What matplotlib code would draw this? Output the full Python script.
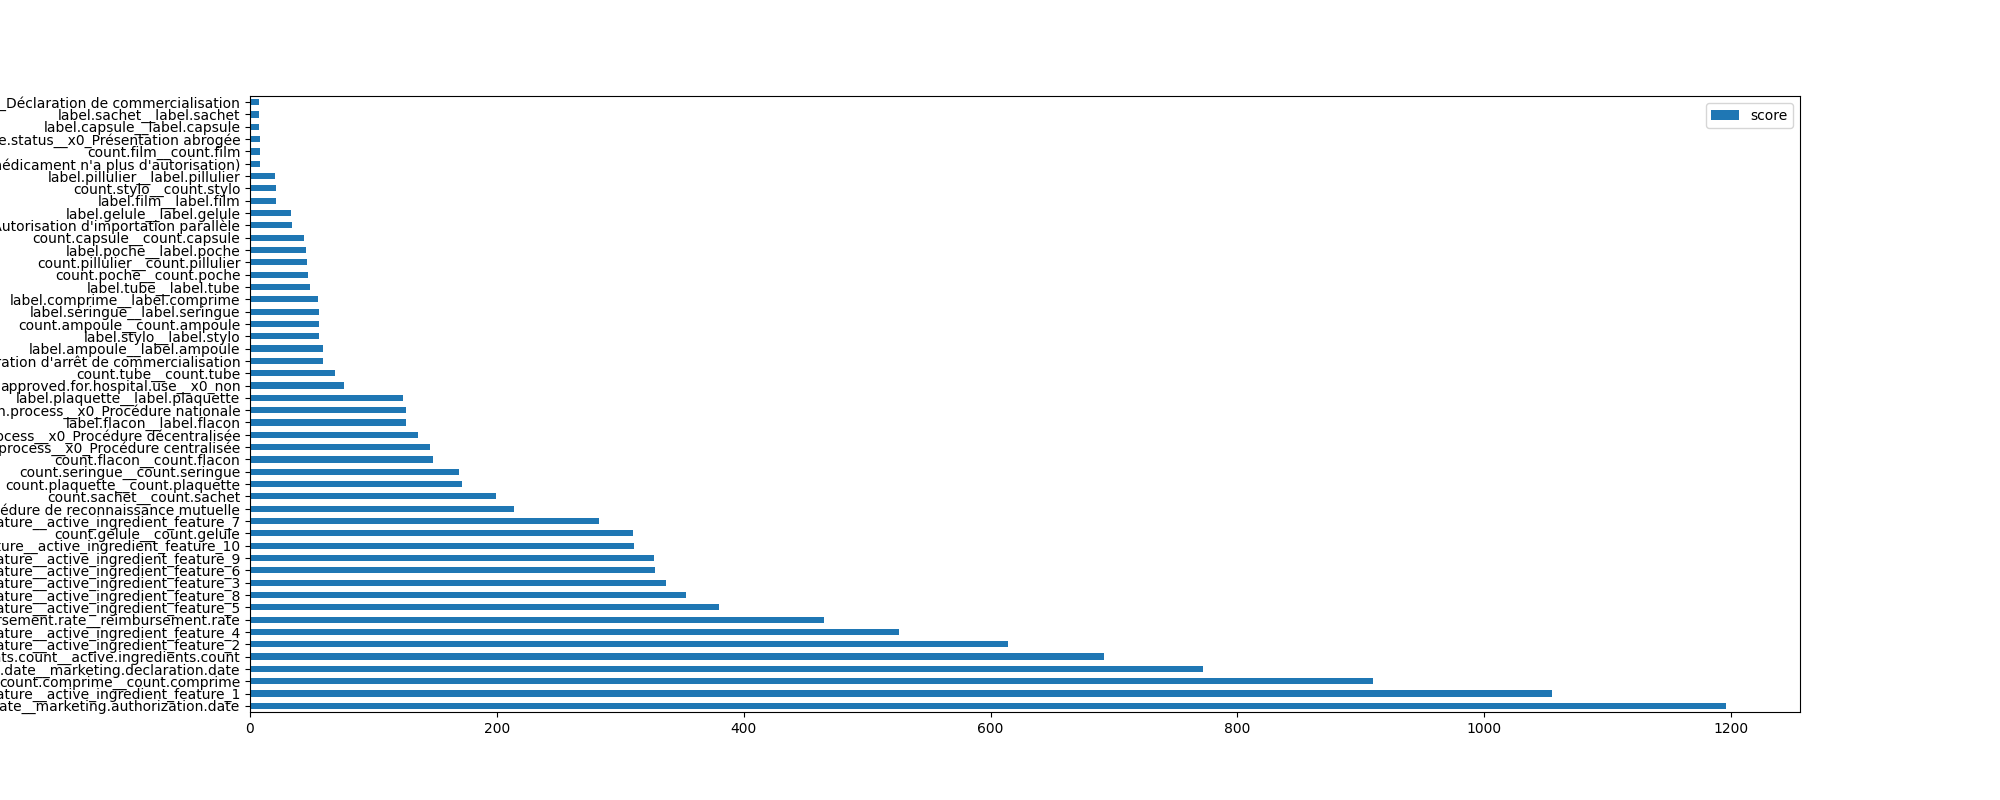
import pandas as pd
import matplotlib
matplotlib.use("Agg")
import matplotlib.pyplot as plt

# feature names, sorted from highest to lowest score (pandas barh draws first row at bottom)
features = [
    "marketing.authorization.date__marketing.authorization.date",
    "active_ingredient_feature__active_ingredient_feature_1",
    "count.comprime__count.comprime",
    "marketing.declaration.date__marketing.declaration.date",
    "active.ingredients.count__active.ingredients.count",
    "active_ingredient_feature__active_ingredient_feature_2",
    "active_ingredient_feature__active_ingredient_feature_4",
    "reimbursement.rate__reimbursement.rate",
    "active_ingredient_feature__active_ingredient_feature_5",
    "active_ingredient_feature__active_ingredient_feature_8",
    "active_ingredient_feature__active_ingredient_feature_3",
    "active_ingredient_feature__active_ingredient_feature_6",
    "active_ingredient_feature__active_ingredient_feature_9",
    "active_ingredient_feature__active_ingredient_feature_10",
    "count.gelule__count.gelule",
    "active_ingredient_feature__active_ingredient_feature_7",
    "marketing.authorization.process__x0_Procédure de reconnaissance mutuelle",
    "count.sachet__count.sachet",
    "count.plaquette__count.plaquette",
    "count.seringue__count.seringue",
    "count.flacon__count.flacon",
    "marketing.authorization.process__x0_Procédure centralisée",
    "marketing.authorization.process__x0_Procédure décentralisée",
    "label.flacon__label.flacon",
    "marketing.authorization.process__x0_Procédure nationale",
    "label.plaquette__label.plaquette",
    "approved.for.hospital.use__x0_non",
    "count.tube__count.tube",
    "marketing.status__x0_Déclaration d'arrêt de commercialisation",
    "label.ampoule__label.ampoule",
    "label.stylo__label.stylo",
    "count.ampoule__count.ampoule",
    "label.seringue__label.seringue",
    "label.comprime__label.comprime",
    "label.tube__label.tube",
    "count.poche__count.poche",
    "count.pillulier__count.pillulier",
    "label.poche__label.poche",
    "count.capsule__count.capsule",
    "marketing.authorization.process__x0_Autorisation d'importation parallèle",
    "label.gelule__label.gelule",
    "label.film__label.film",
    "count.stylo__count.stylo",
    "label.pillulier__label.pillulier",
    "marketing.status__x0_Arrêt de commercialisation (le médicament n'a plus d'autorisation)",
    "count.film__count.film",
    "administrative.status__x0_Présentation abrogée",
    "label.capsule__label.capsule",
    "label.sachet__label.sachet",
    "marketing.status__x0_Déclaration de commercialisation",
]

scores = [
    1196, 1055, 910, 772, 692, 614, 526, 465, 380, 353,
    337, 328, 327, 311, 310, 283, 214, 199, 171.5, 169,
    148, 146, 136, 126.3, 126, 124, 76, 68.6, 59, 59,
    55.7, 55.7, 55.7, 55, 49, 46.8, 46, 45, 43.5, 33.8,
    33, 20.8, 20.8, 20, 7.8, 7.8, 7.8, 7, 7, 7,
]

df = pd.DataFrame({"score": scores}, index=features)

ax = df.plot.barh(figsize=(20, 8))
plt.savefig("out.png", dpi=100)
plt.close()
